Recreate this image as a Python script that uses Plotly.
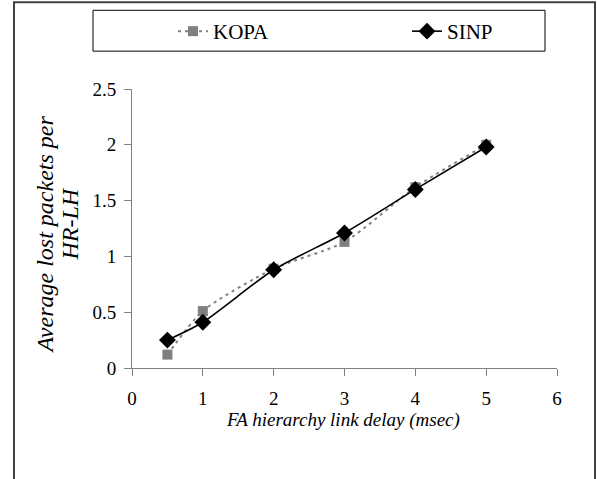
import plotly.graph_objects as go

delay = [0.5, 1, 2, 3, 4, 5]
kopa = [0.12, 0.51, 0.89, 1.13, 1.62, 2.0]
sinp = [0.25, 0.41, 0.88, 1.21, 1.60, 1.98]

W, H = 597, 479
L, R, T, B = 132, 40, 88, 111
pw, ph = W - L - R, H - T - B

def px2x(px):
    return (px - L) / pw

def py2y(py):
    return (H - B - py) / ph

FONT = "Liberation Serif, Times New Roman, serif"

fig = go.Figure()
fig.add_trace(go.Scatter(
    x=delay, y=kopa, name="KOPA", mode="lines+markers", legend="legend",
    line=dict(color="#808080", width=2, dash="3px,4px", shape="spline", smoothing=0.7),
    marker=dict(symbol="square", size=10, color="#7f7f7f"),
))
fig.add_trace(go.Scatter(
    x=delay, y=sinp, name="SINP", mode="lines+markers", legend="legend2",
    line=dict(color="black", width=1.6, shape="spline", smoothing=0.7),
    marker=dict(symbol="diamond", size=13, color="black"),
))

axis_common = dict(
    showgrid=False, zeroline=False, showline=True, linecolor="#808080", linewidth=1,
    ticks="outside", ticklen=7, tickcolor="#808080", tickwidth=1,
    tickfont=dict(family=FONT, size=19, color="black"),
)
fig.update_xaxes(range=[0, 6], dtick=1, tick0=0, ticklabelstandoff=6, **axis_common)
fig.update_yaxes(range=[0, 2.5], dtick=0.5, tick0=0, ticklabelstandoff=4, **axis_common)

leg_common = dict(
    orientation="h", xanchor="left", yanchor="top",
    bgcolor="rgba(0,0,0,0)", borderwidth=0,
    font=dict(family=FONT, size=21, color="black"),
)

fig.update_layout(
    width=W, height=H,
    margin=dict(l=L, r=R, t=T, b=B),
    paper_bgcolor="white", plot_bgcolor="white",
    showlegend=True,
    legend=dict(x=px2x(173), y=py2y(11), **leg_common),
    legend2=dict(x=px2x(407), y=py2y(11), **leg_common),
    shapes=[
        dict(type="rect", xref="paper", yref="paper",
             x0=px2x(14), x1=px2x(595), y0=py2y(1), y1=py2y(520),
             line=dict(color="#404040", width=2), fillcolor="rgba(0,0,0,0)"),
        dict(type="rect", xref="paper", yref="paper",
             x0=px2x(93), x1=px2x(545), y0=py2y(9), y1=py2y(50),
             line=dict(color="black", width=1), fillcolor="rgba(0,0,0,0)"),
    ],
    annotations=[
        dict(text="<i>Average lost packets per</i>", xref="paper", yref="paper",
             x=px2x(45), y=py2y(234), textangle=-90, showarrow=False,
             font=dict(family=FONT, size=24, color="black"), xanchor="center", yanchor="middle"),
        dict(text="<i>HR-LH</i>", xref="paper", yref="paper",
             x=px2x(70), y=py2y(224), textangle=-90, showarrow=False,
             font=dict(family=FONT, size=24, color="black"), xanchor="center", yanchor="middle"),
        dict(text="<i>FA hierarchy link delay (msec)</i>", xref="paper", yref="paper",
             x=px2x(343), y=py2y(420), showarrow=False,
             font=dict(family=FONT, size=19, color="black"), xanchor="center", yanchor="middle"),
    ],
)

fig.write_html("out.html")
